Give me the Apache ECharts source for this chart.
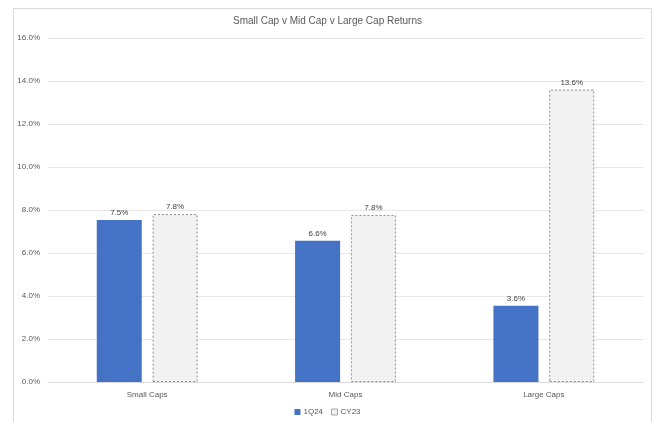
<!DOCTYPE html>
<html>
<head>
<meta charset="utf-8">
<script src="https://cdn.jsdelivr.net/npm/echarts@6/dist/echarts.min.js"></script>
<style>
html,body{margin:0;padding:0;background:#fff;}
#chart{width:655px;height:422px;}
</style>
</head>
<body>
<div id="chart"></div>
<script>
const categories = ['Small Caps', 'Mid Caps', 'Large Caps'];
const seriesNames = ['1Q24', 'CY23'];
const q124 = [7.53, 6.57, 3.55];
const cy23 = [7.81, 7.77, 13.6];
const q124Labels = ['7.5%', '6.6%', '3.6%'];
const cy23Labels = ['7.8%', '7.8%', '13.6%'];

const chart = echarts.init(document.getElementById('chart'), null, {renderer: 'canvas'});
const fontFamily = 'Liberation Sans, Arial, sans-serif';
chart.setOption({
  animation: false,
  backgroundColor: '#ffffff',
  title: {
    text: 'Small Cap v Mid Cap v Large Cap Returns',
    left: 'center',
    top: 11,
    textStyle: {fontSize: 10, fontWeight: 'normal', color: '#595959', fontFamily: fontFamily}
  },
  graphic: [{
    type: 'rect',
    shape: {x: 13.5, y: 8.5, width: 638, height: 420},
    style: {fill: 'none', stroke: '#d9d9d9', lineWidth: 1},
    silent: true
  }],
  legend: {
    bottom: 1,
    left: 'center',
    itemWidth: 6,
    itemHeight: 6,
    itemGap: 8,
    textStyle: {fontSize: 8, color: '#595959', fontFamily: fontFamily, padding: [0, 0, 0, -2]},
    data: [
      {name: seriesNames[0], icon: 'rect'},
      {name: seriesNames[1], icon: 'rect', itemStyle: {color: '#f2f2f2', borderColor: '#a6a6a6', borderWidth: 1, borderType: 'solid'}}
    ]
  },
  grid: {left: 48, right: 12, top: 38, bottom: 40, containLabel: false},
  xAxis: {
    type: 'category',
    data: categories,
    axisLine: {lineStyle: {color: '#d9d9d9'}},
    axisTick: {show: false},
    axisLabel: {fontSize: 8, color: '#595959', fontFamily: fontFamily, margin: 9}
  },
  yAxis: {
    type: 'value',
    min: 0,
    max: 16,
    interval: 2,
    axisLine: {show: false},
    axisTick: {show: false},
    splitLine: {lineStyle: {color: '#e6e6e6'}},
    axisLabel: {fontSize: 8, color: '#595959', fontFamily: fontFamily, margin: 8,
      formatter: v => v.toFixed(1) + '%'}
  },
  series: [
    {
      name: seriesNames[0],
      type: 'bar',
      data: q124,
      barWidth: 45,
      barGap: '24%',
      itemStyle: {color: '#4472c4'},
      label: {show: true, position: 'top', fontSize: 8, color: '#404040', fontFamily: fontFamily,
        distance: 3, formatter: p => q124Labels[p.dataIndex]}
    },
    {
      name: seriesNames[1],
      type: 'bar',
      data: cy23,
      barWidth: 45,
      itemStyle: {color: '#f2f2f2', borderColor: '#8c8c8c', borderWidth: 1, borderType: [2, 2]},
      label: {show: true, position: 'top', fontSize: 8, color: '#404040', fontFamily: fontFamily,
        distance: 3, formatter: p => cy23Labels[p.dataIndex]}
    }
  ]
});
</script>
</body>
</html>
